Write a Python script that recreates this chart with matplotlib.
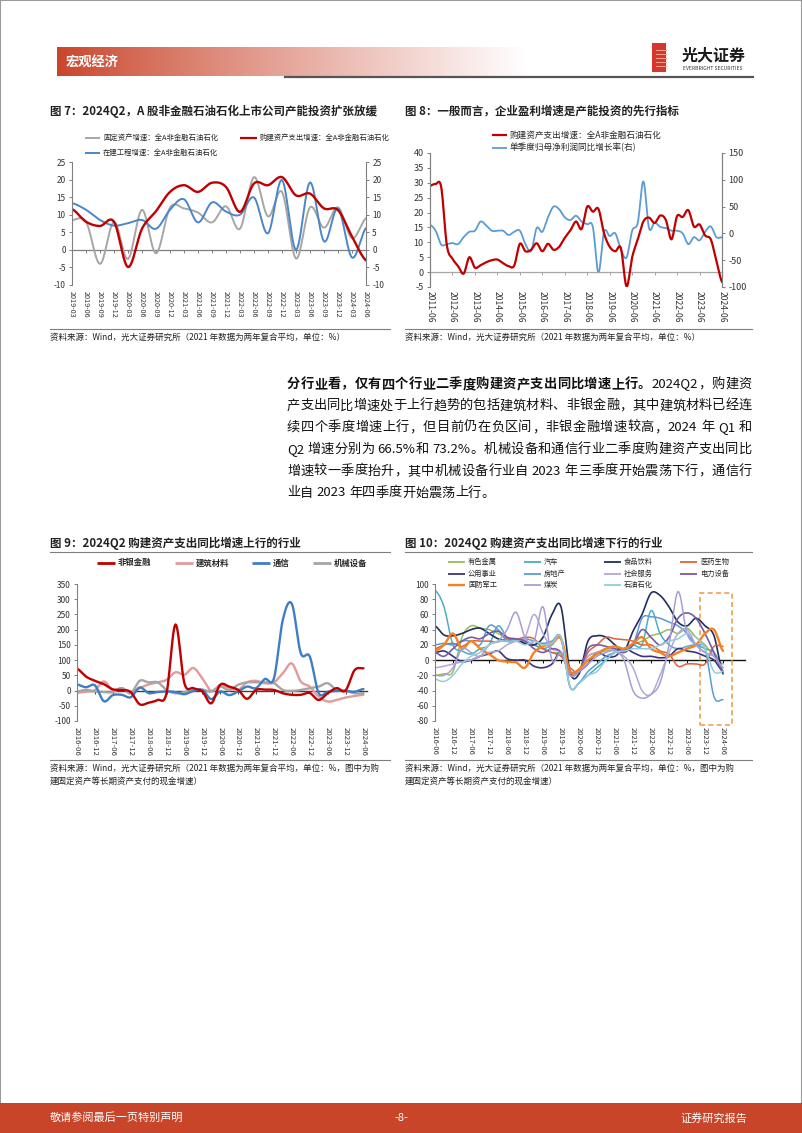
import numpy as np
import matplotlib
matplotlib.use('Agg')
import matplotlib.pyplot as plt
from matplotlib.patches import Rectangle
from matplotlib.lines import Line2D
from matplotlib.font_manager import FontProperties

plt.rcParams['font.family'] = ['Noto Sans CJK SC', 'DejaVu Sans']
plt.rcParams['axes.unicode_minus'] = False

# ---------------- data ----------------
c7_labels = ['2019-03', '2019-06', '2019-09', '2019-12', '2020-03', '2020-06', '2020-09', '2020-12',
             '2021-03', '2021-06', '2021-09', '2021-12', '2022-03', '2022-06', '2022-09', '2022-12',
             '2023-03', '2023-06', '2023-09', '2023-12', '2024-03', '2024-06']
c7_fixed = [8.5, 8, -4, 8, -2.6, 11.4, -1, 12, 11.8, 10.6, 7.8, 12.4, 6, 20.7, 9.5, 16.5, -2.5, 12.1, 6.3, 12.1, 3.3, 9]
c7_capex = [11.6, 8, 6.8, 8, -4.9, 6, 11, 16.5, 18.4, 16.5, 19.1, 17.9, 10.8, 18.9, 18.4, 20.7, 15.5, 16, 11.8, 11.3, 3.8, -3]
c7_cip = [13.3, 11.4, 8.5, 6.9, 7.6, 8.5, 6, 11.4, 14.4, 7.8, 13.5, 10.9, 10, 14.9, 4.7, 19.9, 0, 19.2, 2.4, 11.8, -2.2, 6.2]

c8_labels = ['2011-06', '2012-06', '2013-06', '2014-06', '2015-06', '2016-06', '2017-06',
             '2018-06', '2019-06', '2020-06', '2021-06', '2022-06', '2023-06', '2024-06']
c8_capex = [29, 29.6, 28.5, 9, 4.5, 2, -0.5, 5, 1.5, 2.3, 3.3, 4, 4.2, 3, 2, 2.2,
            9.5, 7, 7.5, 9.7, 7, 9.5, 7.5, 8.5, 11.5, 14, 17, 14.5, 22, 20.3, 21.2, 13,
            8.5, 7, 8, -4.8, 5, 11, 17, 18.3, 16.5, 19, 17.5, 11, 18.8, 18.5, 20.8, 15.3,
            16, 12.3, 11, 3.8, -3.3]
c8_profit = [16, 5, -21, -20, -18, -20, -7, 3, 5, 22, 15, 5, 5, 5, -3, 3,
             5, -20, -33, 10, 3, 30, 50, 45, 30, 25, 33, 22, 17, 12, -73, 3,
             -5, 0, -30, -45, 5, 20, 97, 10, 20, 12, 10, 5, 5, 0, -20, -7,
             -13, 3, 13, -7, -7]

c9_labels = ['2016-06', '2016-12', '2017-06', '2017-12', '2018-06', '2018-12', '2019-06', '2019-12',
             '2020-06', '2020-12', '2021-06', '2021-12', '2022-06', '2022-12', '2023-06', '2023-12', '2024-06']
c9_nonbank = [72, 46, 32, 21, 4, 2, -5, -45, -40, -31, -9, 217, 24, 8, -3, -42, 19, 13, 2, -27,
              2, 3, 2, -9, -14, -14, -8, -31, -9, 8, 0, 66.5, 73.2]
c9_building = [-7, -4, 2, 30, 2, 8, -5, 8, 20, 27, 35, 60, 52, 74, 40, -1, 18, 8, 2, 27,
               32, 24, 27, 57, 89, 30, 13, -20, -36, -31, -23, -18, -14]
c9_telecom = [20, 11, 17, -35, -15, -14, -22, 10, -8, -5, -3, -5, -12, -1, 2, -28, -3, -15, -3, 13,
              8, 38, 40, 233, 285, 123, 112, -8, -4, -1, -1, -4, 5]
c9_machine = [-3, 2, -3, -5, -5, 8, -9, 32, 27, 27, 2, -9, -5, 2, 3, -3, 13, 1, 19, 27,
              27, 27, 24, 2, -1, 2, 8, 13, 24, 2, -1, -9, -9]

c10_names = ['有色金属', '汽车', '食品饮料', '医药生物', '公用事业', '房地产', '社会服务', '电力设备',
             '国防军工', '煤炭', '石油石化']
c10_metal = [-20, -18, -15, 30, 45, 42, 40, 35, 28, 25, 22, 20, 15, 10, 8, -15, -12, 5, 10, 12,
             15, 10, 20, 25, 32, 35, 40, 35, 42, 30, 20, 5, -5]
c10_auto = [92, 70, 20, 12, 8, 15, 20, 45, 30, 25, 25, 20, 15, 20, 28, -35, -30, -20, -10, 0,
            10, 15, 20, 20, 65, 35, 20, 15, 18, 20, 15, 10, -10]
c10_food = [45, 33, 32, 35, 40, 42, 35, 28, 25, 27, 22, 20, 30, 60, 70, -15, -18, 25, 32, 30,
            20, 12, 38, 60, 88, 85, 70, 50, 45, 55, 45, 32, -18]
c10_pharma = [15, 20, 22, 18, 25, 25, 25, 24, 28, 27, 30, 28, 15, 10, 5, -10, -15, 10, 20, 30,
              28, 27, 25, 20, 20, 12, 8, -8, -5, -5, -5, 18, 18]
c10_utility = [10, 12, 5, -2, 0, 5, 8, 12, 2, 0, 0, -8, -10, -5, 10, -20, -15, -5, 10, 5,
               5, 15, 10, 5, 5, 3, 5, 15, 12, 10, 5, 0, -15]
c10_realty = [20, 22, 20, 25, 25, 20, 45, 40, 25, 25, 28, 25, 22, 25, 30, -35, -30, -15, -5, 5,
              10, 15, 20, 55, 57, 55, 50, 45, 35, 20, 15, -48, -52]
c10_service = [-10, -8, -5, -2, 0, 5, 10, 12, 20, 25, 30, 60, 35, 15, 10, -20, -15, 5, 10, 15,
               12, 5, -10, -40, -45, -20, 10, 35, 40, 20, 10, 5, -10]
c10_power = [10, 5, 15, 25, 30, 28, 35, 38, 30, 28, 25, 15, 10, 15, 10, -15, -15, 15, 20, 18,
             15, 10, 20, 40, 30, 20, 30, 55, 62, 55, 35, 10, -15]
c10_defense = [12, 20, 35, 15, 25, 15, 8, 0, -2, -3, -10, 10, 18, 22, 28, -15, -12, 0, 8, 15,
               18, 15, 22, 30, 15, 10, 5, 10, 15, 20, 35, 40, 12]
c10_coal = [-20, -20, -10, 15, 10, 5, 20, 25, 40, 63, 30, 25, 70, 0, 10, -20, -15, -5, 5, 10,
            12, 0, -40, -50, -45, -30, 20, 90, 35, 20, 10, 5, -10]
c10_oil = [-25, -28, -20, -5, 5, 10, 20, 25, 25, 25, 20, 25, 20, 22, 30, -35, -30, -20, -15, 0,
           10, 12, 15, 15, 15, 20, 25, 28, 35, 30, 15, -15, -15]

# ---------------- helpers ----------------
W, H = 802, 1133
fig = plt.figure(figsize=(W / 100, H / 100), dpi=100)
renderer = fig.canvas.get_renderer()


def fx(x):
    return x / W


def fy(y):
    return 1 - y / H


def rect(x0, y0, x1, y1):
    return [x0 / W, 1 - y1 / H, (x1 - x0) / W, (y1 - y0) / H]


def smooth(vals, n=12):
    y = np.asarray(vals, float)
    yp = np.concatenate([[y[0]], y, [y[-1]]])
    xs, ys = [], []
    t = np.linspace(0, 1, n, endpoint=False)
    h00 = 2 * t ** 3 - 3 * t ** 2 + 1
    h10 = t ** 3 - 2 * t ** 2 + t
    h01 = -2 * t ** 3 + 3 * t ** 2
    h11 = t ** 3 - t ** 2
    for i in range(len(y) - 1):
        m1 = (yp[i + 2] - yp[i]) / 2
        m2 = (yp[i + 3] - yp[i + 1]) / 2
        xs.append(i + t)
        ys.append(h00 * y[i] + h10 * m1 + h01 * y[i + 1] + h11 * m2)
    xs.append([len(y) - 1])
    ys.append([y[-1]])
    return np.concatenate(xs), np.concatenate(ys)


def draw(ax, vals, **kw):
    xs, ys = smooth(vals)
    ax.plot(xs, ys, solid_capstyle='round', **kw)


def ftext(x, y, s, **kw):
    kw.setdefault('va', 'center')
    kw.setdefault('color', '#222222')
    return fig.text(fx(x), fy(y), s, **kw)


def fline(x0, x1, y, color='#7f7f7f', lw=0.8):
    fig.add_artist(Line2D([fx(x0), fx(x1)], [fy(y), fy(y)], transform=fig.transFigure,
                          color=color, lw=lw))


def leg(x0, x1, y, color, lw, label, size, bold=False):
    fig.add_artist(Line2D([fx(x0), fx(x1)], [fy(y), fy(y)], transform=fig.transFigure,
                          color=color, lw=lw, solid_capstyle='butt'))
    ftext(x1 + 3, y, label, fontsize=size, fontweight='bold' if bold else 'normal', color='#262626')


def style(ax, left=True, right=False, color='#808080'):
    for s in ['top', 'bottom']:
        ax.spines[s].set_visible(False)
    ax.spines['left'].set_visible(left)
    ax.spines['right'].set_visible(right)
    for s in ['left', 'right']:
        ax.spines[s].set_color(color)
        ax.spines[s].set_linewidth(0.8)
    ax.patch.set_alpha(0)


def zero_axis(ax, ymin, ymax, ticks, color, lw=0.9, length=2.5):
    sec = ax.secondary_xaxis((0 - ymin) / (ymax - ymin))
    sec.set_xticks(ticks)
    sec.set_xticklabels([])
    sec.tick_params(axis='x', length=length, width=0.7, color=color, direction='out')
    for s in ['top', 'bottom']:
        sec.spines[s].set_color(color)
        sec.spines[s].set_linewidth(lw)
    return sec


def tokens_of(s):
    toks, buf = [], ''
    for ch in s:
        if ord(ch) < 128 and ch != ' ':
            buf += ch
        else:
            if buf:
                toks.append(buf)
                buf = ''
            toks.append(ch)
    if buf:
        toks.append(buf)
    return toks


def justify(x0, x1, y, segments, size, color='#111111', stretch=True):
    items = []
    for text, weight in segments:
        prop = FontProperties(family=['Noto Sans CJK SC', 'DejaVu Sans'], size=size, weight=weight)
        for tk in tokens_of(text):
            w, _, _ = renderer.get_text_width_height_descent(tk, prop, ismath=False)
            items.append((tk, weight, w))
    total = sum(w for _, _, w in items)
    gap = (x1 - x0 - total) / (len(items) - 1) if (stretch and len(items) > 1) else 0.0
    gap = max(gap, 0.0)
    x = x0
    for tk, weight, w in items:
        if tk != ' ':
            ftext(x, y, tk, fontsize=size, fontweight=weight, color=color)
        x += w + gap


# ---------------- page frame, header, footer ----------------
fig.add_artist(Rectangle((0, 0), 1, 1, transform=fig.transFigure, fill=False,
                         edgecolor='#9a9a9a', lw=1.5))

axh = fig.add_axes(rect(57, 47, 527, 76))
tt = np.linspace(0, 1, 300)
c0 = np.array([0.79, 0.27, 0.17])
fade = np.clip(tt ** 0.9, 0, 1)[:, None]
grad = c0[None, :] * (1 - fade) + np.ones(3)[None, :] * fade
axh.imshow(grad[None, :, :], aspect='auto', extent=[0, 1, 0, 1])
axh.axis('off')
ftext(66, 62, '宏观经济', fontsize=9.5, color='white', fontweight='bold')
fline(285, 753, 77, color='#555555', lw=1.6)

# logo
fig.add_artist(Rectangle((fx(652), fy(72)), (666 - 652) / W, (72 - 43) / H,
                         transform=fig.transFigure, facecolor='#D7372B', edgecolor='none'))
for yy in [50, 54, 58, 62, 66]:
    fig.add_artist(Line2D([fx(656), fx(666)], [fy(yy), fy(yy)], transform=fig.transFigure,
                          color='#F3A08F', lw=0.7))
ftext(682, 55, '光大证券', fontsize=11.5, fontweight='bold', color='#1a1a1a')
ftext(683, 68, 'EVERBRIGHT SECURITIES', fontsize=3.6, color='#333333')

fig.add_artist(Rectangle((0, 0), 1, (1133 - 1103) / H, transform=fig.transFigure,
                         facecolor='#C9452A', edgecolor='none'))
ftext(50, 1118, '敬请参阅最后一页特别声明', fontsize=8, color='white')
ftext(401, 1118, '-8-', fontsize=8, color='white', ha='center')
ftext(747, 1118, '证券研究报告', fontsize=8, color='white', ha='right')

# ---------------- titles and sources ----------------
ftext(50, 111, '图 7：2024Q2，A 股非金融石油石化上市公司产能投资扩张放缓', fontsize=8.3, fontweight='bold')
ftext(405, 111, '图 8：一般而言，企业盈利增速是产能投资的先行指标', fontsize=8.3, fontweight='bold')
ftext(50, 543, '图 9：2024Q2 购建资产支出同比增速上行的行业', fontsize=8.3, fontweight='bold')
ftext(405, 543, '图 10：2024Q2 购建资产支出同比增速下行的行业', fontsize=8.3, fontweight='bold')
fline(50, 390, 552)
fline(405, 752, 552)

src = '资料来源：Wind，光大证券研究所（2021 年数据为两年复合平均，单位：%）'
fline(50, 390, 329)
fline(405, 752, 329)
ftext(50, 337, src, fontsize=6.1)
ftext(405, 337, src, fontsize=6.1)
src2a = '资料来源：Wind，光大证券研究所（2021 年数据为两年复合平均，单位：%，图中为购'
src2b = '建固定资产等长期资产支付的现金增速）'
fline(50, 390, 760)
fline(405, 752, 760)
for x0 in (50, 405):
    ftext(x0, 768, src2a, fontsize=6.1)
    ftext(x0, 781, src2b, fontsize=6.1)

# ---------------- body text ----------------
bsize = 9.5
body_lines = [
    [('分行业看，仅有四个行业二季度购建资产支出同比增速上行。', 'bold'), ('2024Q2，购建资', 'normal')],
    [('产支出同比增速处于上行趋势的包括建筑材料、非银金融，其中建筑材料已经连', 'normal')],
    [('续四个季度增速上行，但目前仍在负区间，非银金融增速较高，2024 年 Q1 和', 'normal')],
    [('Q2 增速分别为 66.5%和 73.2%。机械设备和通信行业二季度购建资产支出同比', 'normal')],
    [('增速较一季度抬升，其中机械设备行业自 2023 年三季度开始震荡下行，通信行', 'normal')],
    [('业自 2023 年四季度开始震荡上行。', 'normal')],
]
for k, segs in enumerate(body_lines):
    justify(287, 752, 384 + 21.8 * k, segs, bsize, stretch=(k < len(body_lines) - 1))

# ---------------- chart 7 ----------------
RED = '#C00000'
ax7 = fig.add_axes(rect(72, 162, 366, 285))
style(ax7, left=True, right=True)
ax7.set_xlim(0, len(c7_labels) - 1)
ax7.set_ylim(-10, 25)
ax7.set_yticks(range(-10, 26, 5))
ax7.tick_params(axis='y', length=2.5, width=0.7, color='#808080', labelsize=5.9, labelcolor='#333333',
                left=True, right=True, labelleft=True, labelright=True, pad=2)
ax7.set_xticks(range(len(c7_labels)))
ax7.set_xticklabels(c7_labels, rotation=-90, fontsize=5.2, color='#333333')
ax7.tick_params(axis='x', length=0, pad=4)
zero_axis(ax7, -10, 25, range(len(c7_labels)), '#7f7f7f')
draw(ax7, c7_fixed, color='#A6A6A6', lw=1.4)
draw(ax7, c7_cip, color='#4A86C8', lw=1.4)
draw(ax7, c7_capex, color=RED, lw=1.7)
leg(85, 100, 138, '#A6A6A6', 1.4, '固定资产增速：全A非金融石油石化', 5.3)
leg(240, 257, 138, RED, 1.6, '购建资产支出增速：全A非金融石油石化', 5.3)
leg(85, 100, 153, '#4A86C8', 1.4, '在建工程增速：全A非金融石油石化', 5.3)

# ---------------- chart 8 ----------------
ax8 = fig.add_axes(rect(430, 153, 722, 287))
ax8r = ax8.twinx()
style(ax8, left=True, right=True)
style(ax8r, left=True, right=True)
n8 = len(c8_capex)
ax8.set_xlim(0, n8 - 1)
ax8.set_ylim(-5, 40)
ax8.set_yticks(range(-5, 41, 5))
ax8r.set_ylim(-100, 150)
ax8r.set_yticks(range(-100, 151, 50))
ax8.tick_params(axis='y', length=2.5, width=0.7, color='#808080', labelsize=6.5, labelcolor='#333333', pad=2)
ax8r.tick_params(axis='y', length=2.5, width=0.7, color='#808080', labelsize=6.5, labelcolor='#333333', pad=2)
xt8 = list(range(0, n8, 4))
ax8.set_xticks(xt8)
ax8.set_xticklabels(c8_labels, rotation=-90, fontsize=6.2, color='#333333')
ax8.tick_params(axis='x', length=0, pad=3)
zero_axis(ax8, -5, 40, xt8, '#A6A6A6')
draw(ax8r, c8_profit, color='#5B9BD5', lw=1.3)
draw(ax8, c8_capex, color=RED, lw=1.6)
ax8.set_zorder(ax8r.get_zorder() + 1)
leg(492, 507, 135, RED, 1.6, '购建资产支出增速：全A非金融石油石化', 6.2)
leg(492, 507, 148, '#5B9BD5', 1.3, '单季度归母净利润同比增长率(右)', 6.2)

# ---------------- chart 9 ----------------
ax9 = fig.add_axes(rect(77, 584, 367, 721))
style(ax9, left=True, right=False)
n9 = len(c9_nonbank)
ax9.set_xlim(0, n9 - 1 + 0.4)
ax9.set_ylim(-100, 350)
ax9.set_yticks(range(-100, 351, 50))
ax9.tick_params(axis='y', length=2.5, width=0.7, color='#808080', labelsize=6, labelcolor='#333333', pad=2)
xt9 = list(range(0, n9, 2))
ax9.set_xticks(xt9)
ax9.set_xticklabels(c9_labels, rotation=-90, fontsize=5.6, color='#333333')
ax9.tick_params(axis='x', length=0, pad=4)
zero_axis(ax9, -100, 350, xt9, '#404040', lw=1.0)
draw(ax9, c9_building, color='#E39A9B', lw=1.7)
draw(ax9, c9_machine, color='#A5A5A5', lw=1.7)
draw(ax9, c9_telecom, color='#3F7DC4', lw=1.7)
draw(ax9, c9_nonbank, color=RED, lw=1.7)
leg(97, 115, 563, RED, 2.0, '非银金融', 6.0, bold=True)
leg(175, 193, 563, '#E39A9B', 2.0, '建筑材料', 6.0, bold=True)
leg(252, 270, 563, '#3F7DC4', 2.0, '通信', 6.0, bold=True)
leg(313, 331, 563, '#A5A5A5', 2.0, '机械设备', 6.0, bold=True)

# ---------------- chart 10 ----------------
ax10 = fig.add_axes(rect(435, 584, 745, 721))
style(ax10, left=True, right=False)
n10 = len(c10_metal)
step10 = (723 - 435) / (n10 - 1)
ax10.set_xlim(0, (745 - 435) / step10)
ax10.set_ylim(-80, 100)
ax10.set_yticks(range(-80, 101, 20))
ax10.tick_params(axis='y', length=2.5, width=0.7, color='#808080', labelsize=6, labelcolor='#333333', pad=2)
xt10 = list(range(0, n10, 2))
ax10.set_xticks(xt10)
ax10.set_xticklabels(c9_labels, rotation=-90, fontsize=5.4, color='#333333')
ax10.tick_params(axis='x', length=0, pad=4)
zero_axis(ax10, -80, 100, xt10, '#111111', lw=1.0)
series10 = [c10_metal, c10_auto, c10_food, c10_pharma, c10_utility, c10_realty, c10_service,
            c10_power, c10_defense, c10_coal, c10_oil]
colors10 = ['#9BBB59', '#4BACC6', '#1F2F5F', '#E0603A', '#3B3480', '#5B9BD5', '#B4A7D6',
            '#7A5BA6', '#F58220', '#A59FD3', '#92CDDC']
widths10 = [1.1, 1.1, 1.2, 1.1, 1.2, 1.1, 1.1, 1.2, 1.7, 1.1, 1.1]
for vals, c, w in zip(series10, colors10, widths10):
    draw(ax10, vals, color=c, lw=w)
box_left = c9_labels.index('2023-12') * 2 - 0.6
ax10.add_patch(Rectangle((box_left, -85), (732 - 700) / step10, 173, fill=False,
                         edgecolor='#F0A050', lw=1.2, ls=(0, (3, 2)), clip_on=False))
leg_cols = [448, 524, 604, 680]
leg_rows = [562, 573.5, 585]
for k, (nm, c, w) in enumerate(zip(c10_names, colors10, widths10)):
    r, cidx = divmod(k, 4)
    leg(leg_cols[cidx], leg_cols[cidx] + 17, leg_rows[r], c, max(w, 1.3), nm, 5.2)

fig.savefig('out.png', dpi=100)
